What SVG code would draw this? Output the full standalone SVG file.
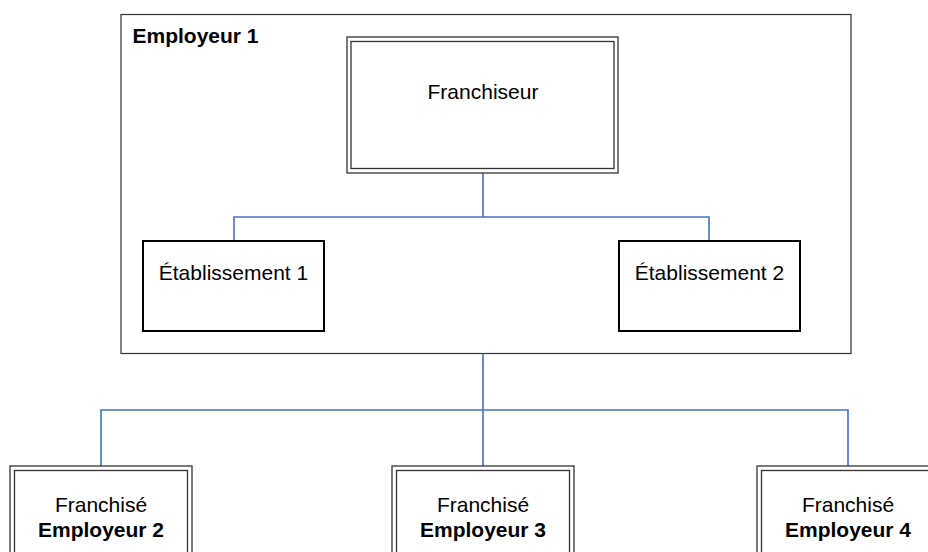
<svg xmlns="http://www.w3.org/2000/svg" width="928" height="552" viewBox="0 0 928 552">
<style>
  .t { font-family: "Liberation Sans", Arial, sans-serif; font-size: 21px; fill: #000; text-anchor: middle; }
  .b { font-weight: bold; }
  .group { fill: #fff; stroke: #333; stroke-width: 1.2; }
  .single { fill: #fff; stroke: #000; stroke-width: 2; }
  .dbl-o { fill: #fff; stroke: #333; stroke-width: 1.3; }
  .dbl-i { fill: none; stroke: #333; stroke-width: 1.3; }
  .conn { fill: none; stroke: #4472C4; stroke-width: 1.6; }
</style>
<rect width="928" height="552" fill="#fff"/>
<g id="employeur1">
  <rect class="group" x="121" y="14.5" width="730" height="339"/>
  <text class="t b" x="132.5" y="42.5" style="text-anchor:start">Employeur 1</text>
</g>
<g id="connectors">
  <path class="conn" d="M483 173 V217 M234 241 V217 H709 V241"/>
  <path class="conn" d="M483 353.5 V410 M101 466 V410 H848 V466 M483 410 V466"/>
</g>
<g id="franchiseur">
  <rect class="dbl-o" x="347" y="37" width="271" height="136"/>
  <rect class="dbl-i" x="351" y="41.5" width="263" height="127"/>
  <text class="t" x="483" y="99">Franchiseur</text>
</g>
<g id="etablissement1">
  <rect class="single" x="143" y="241" width="181" height="90"/>
  <text class="t" x="233.5" y="280">Établissement 1</text>
</g>
<g id="etablissement2">
  <rect class="single" x="619" y="241" width="181" height="90"/>
  <text class="t" x="709.5" y="280">Établissement 2</text>
</g>
<g id="franchise2">
  <rect class="dbl-o" x="10" y="466" width="182" height="140"/>
  <rect class="dbl-i" x="14.5" y="470.5" width="173" height="140"/>
  <text class="t" x="101" y="511.5">Franchisé</text>
  <text class="t b" x="101" y="536.5">Employeur 2</text>
</g>
<g id="franchise3">
  <rect class="dbl-o" x="392" y="466" width="182" height="140"/>
  <rect class="dbl-i" x="396.5" y="470.5" width="173" height="140"/>
  <text class="t" x="483" y="511.5">Franchisé</text>
  <text class="t b" x="483" y="536.5">Employeur 3</text>
</g>
<g id="franchise4">
  <rect class="dbl-o" x="757" y="466" width="182" height="140"/>
  <rect class="dbl-i" x="761.5" y="470.5" width="173" height="140"/>
  <text class="t" x="848" y="511.5">Franchisé</text>
  <text class="t b" x="848" y="536.5">Employeur 4</text>
</g>
</svg>
